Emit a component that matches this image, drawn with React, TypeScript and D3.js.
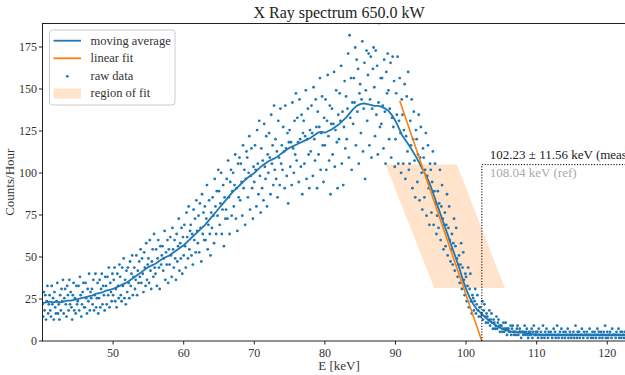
import React from 'react';
import * as d3 from 'd3';

const W = 625;
const H = 375;

// Raw spectrum: recorded counts per 0.1 keV channel starting at 40.0 keV
const ENERGY_START = 40.0;
const ENERGY_STEP = 0.1;
const COUNTS_TO_RATE = 1.82; // counts -> counts/hour
const rawCounts: number[] = [
  12, 8, 16, 10, 15, 7, 13, 18, 9, 12,
  15, 10, 8, 18, 12, 14, 7, 16, 11, 9,
  13, 19, 9, 12, 7, 15, 10, 17, 13, 20,
  9, 14, 17, 12, 8, 18, 15, 10, 20, 12,
  16, 11, 7, 15, 19, 10, 14, 9, 18, 12,
  13, 18, 10, 21, 15, 8, 12, 16, 19, 11,
  11, 19, 14, 9, 17, 13, 22, 10, 16, 14,
  17, 12, 20, 10, 15, 22, 11, 14, 19, 9,
  14, 20, 11, 17, 22, 12, 18, 15, 10, 21,
  18, 12, 21, 15, 24, 11, 19, 16, 13, 22,
  15, 20, 24, 13, 17, 11, 22, 18, 14, 25,
  21, 15, 13, 24, 18, 27, 14, 20, 12, 23,
  16, 24, 19, 14, 26, 18, 22, 28, 15, 21,
  24, 17, 20, 28, 15, 23, 19, 26, 21, 30,
  19, 27, 22, 16, 29, 24, 18, 32, 20, 25,
  27, 19, 33, 23, 17, 26, 30, 21, 35, 24,
  22, 30, 18, 27, 33, 24, 17, 31, 25, 28,
  31, 23, 27, 36, 20, 29, 25, 33, 19, 30,
  25, 34, 28, 21, 37, 30, 24, 33, 27, 20,
  35, 26, 31, 40, 23, 32, 27, 37, 22, 34,
  28, 38, 31, 24, 42, 34, 27, 44, 30, 36,
  38, 28, 35, 25, 43, 33, 40, 29, 46, 36,
  32, 41, 29, 45, 37, 26, 48, 35, 42, 33,
  44, 33, 40, 51, 30, 38, 46, 35, 28, 42,
  37, 47, 41, 32, 53, 44, 35, 49, 41, 56,
  49, 38, 45, 55, 35, 43, 51, 31, 47, 40,
  43, 53, 40, 59, 47, 35, 52, 56, 41, 49,
  55, 44, 51, 61, 40, 50, 36, 58, 47, 60,
  46, 58, 52, 41, 64, 50, 56, 38, 53, 62,
  60, 47, 55, 67, 43, 54, 63, 50, 40, 57,
  52, 64, 56, 44, 69, 58, 48, 72, 54, 42,
  63, 50, 59, 46, 71, 57, 53, 67, 44, 61,
  55, 68, 60, 48, 74, 58, 64, 51, 77, 56,
  66, 53, 62, 47, 72, 60, 51, 76, 58, 64,
  56, 70, 62, 50, 77, 63, 54, 68, 45, 65,
  69, 57, 65, 51, 78, 63, 55, 72, 61, 81,
  59, 73, 65, 52, 79, 66, 57, 74, 48, 68,
  72, 58, 67, 82, 53, 66, 76, 61, 50, 69,
  62, 77, 68, 54, 83, 66, 59, 79, 70, 50,
  75, 61, 70, 86, 56, 68, 80, 64, 52, 73,
  64, 79, 56, 72, 87, 67, 59, 77, 48, 71,
  76, 61, 71, 88, 57, 69, 82, 65, 50, 74,
  66, 81, 72, 90, 58, 75, 51, 70, 85, 63,
  80, 66, 76, 94, 60, 100, 73, 86, 56, 78,
  71, 86, 78, 96, 64, 92, 75, 89, 58, 81,
  84, 68, 79, 98, 62, 76, 91, 53, 82, 95,
  72, 87, 94, 64, 79, 93, 60, 76, 89, 96,
  83, 67, 95, 74, 90, 61, 78, 104, 70, 86,
  71, 86, 77, 63, 92, 75, 58, 88, 81, 94,
  82, 66, 76, 91, 60, 73, 93, 70, 85, 57,
  66, 81, 74, 93, 58, 72, 86, 68, 55, 79,
  74, 58, 69, 84, 53, 67, 80, 62, 88, 56,
  58, 72, 64, 79, 50, 66, 75, 59, 47, 69,
  66, 52, 61, 74, 46, 60, 70, 55, 43, 63,
  60, 47, 56, 68, 41, 54, 64, 50, 38, 58,
  56, 42, 52, 62, 38, 49, 58, 45, 35, 41,
  49, 37, 45, 56, 33, 44, 51, 40, 30, 38,
  42, 31, 38, 48, 28, 37, 44, 33, 26, 30,
  35, 25, 32, 40, 23, 31, 37, 27, 21, 25,
  28, 19, 25, 32, 17, 24, 29, 20, 15, 22,
  21, 13, 18, 24, 11, 17, 22, 13, 9, 15,
  14, 10, 13, 17, 9, 12, 15, 10, 8, 11,
  11, 8, 9, 13, 7, 10, 12, 8, 6, 9,
  8, 6, 7, 10, 5, 7, 9, 6, 4, 7,
  6, 4, 5, 8, 4, 6, 7, 5, 3, 5,
  5, 3, 4, 6, 3, 4, 6, 4, 2, 4,
  4, 3, 3, 5, 2, 4, 5, 3, 2, 3,
  3, 2, 4, 5, 2, 3, 4, 3, 1, 3,
  3, 2, 3, 5, 2, 3, 4, 2, 1, 3,
  2, 3, 2, 4, 1, 3, 5, 2, 2, 3,
  2, 3, 1, 4, 2, 2, 3, 1, 2, 5,
  2, 1, 3, 2, 4, 2, 1, 3, 2, 2,
  3, 2, 1, 2, 4, 2, 3, 1, 2, 5,
  2, 1, 2, 3, 2, 4, 1, 2, 3, 2,
  1, 3, 2, 2, 4, 1, 2, 3, 2, 1,
  2, 2, 3, 1, 2, 5, 2, 1, 3, 2,
  3, 1, 2, 2, 4, 2, 1, 3, 2, 2,
  2, 3, 1, 2, 2, 4, 2, 1, 2, 3,
  1, 2, 3, 2, 1, 2, 4, 2, 3, 1,
  2, 3, 2, 1, 2, 3, 2, 5, 1, 2,
  3, 1, 2, 2, 3, 2, 1, 4, 2, 2,
  2, 2, 1, 3, 2, 2, 4, 1, 2, 3,
  1, 3, 2, 2, 1, 3, 2, 2, 4, 2,
  2, 1, 3, 2, 2, 1, 3, 2, 2, 4,
];

// Moving average (counts/hour) sampled every 0.5 keV from 40.0 keV
const MA_START = 40.0;
const MA_STEP = 0.5;
const movingAverage: number[] = [
  22.5, 23, 23.5, 23, 23.5, 23, 23.5, 24, 24, 24.5,
  25, 25.5, 26, 26.5, 27, 28, 28.5, 29, 30, 30.5,
  31, 32, 33, 34, 35, 36.5, 38, 39.5, 41, 42.5,
  44, 45, 46, 47.5, 49, 50, 51, 52.5, 54, 55.5,
  57, 59, 61, 63, 65, 67, 69, 71.5, 74, 76.5,
  79, 81.5, 84, 86.5, 89, 91, 93, 95, 97, 98.5,
  100, 102, 104, 105.5, 107, 108, 109, 110.5, 112, 113.5,
  115, 116, 117, 118, 119, 120, 121, 122.5, 124, 124.5,
  124, 125, 126, 127.5, 129, 131, 133, 135.5, 138, 140,
  141, 141.5, 141, 140.5, 140, 140, 139.5, 138.5, 137, 134.5,
  131, 126.5, 122, 119, 116, 112.5, 109, 105, 101, 97,
  92, 86, 80, 74, 68, 62, 56, 50, 44, 37,
  31, 26, 22, 19, 17, 15, 13, 11.5, 10, 8.5,
  7.5, 6.5, 6, 5.5, 5.5, 5, 5, 4.5, 4.5, 4,
  4, 3.8, 3.7, 3.8, 3.6, 3.7, 3.6, 3.7, 3.6, 3.5,
  3.6, 3.7, 3.6, 3.5, 3.6, 3.7, 3.6, 3.5, 3.6, 3.6,
  3.5, 3.6, 3.7, 3.6, 3.5, 3.6, 3.6, 3.5, 3.6,
];

// Linear fit of the falling edge
const fitLineE = [90.6, 102.23];
const fitLineRate = [143, 0];

// Region used for the fit (top edge, bottom edge)
const regionRate = [105, 31.5];
const regionLeftE = [88.6, 95.5];
const regionRightE = [98.7, 105.5];

// Endpoint annotation
const measuredE = 102.23;
const measuredErr = 11.56;
const refE = 108.04;
const annotationRate = 105;

const xTicks = [50, 60, 70, 80, 90, 100, 110, 120];
const yTicks = [0, 25, 50, 75, 100, 125, 150, 175];
const xDomain = [40, 124];
const yDomain = [0, 189];

const BLUE = '#1f77b4';
const ORANGE = '#ff7f0e';
const FONT = "'Liberation Serif', 'Times New Roman', serif";

const PLOT = { left: 42.5, right: 635.5, top: 23.5, bottom: 341 };

export default function App() {
  const x = d3.scaleLinear().domain(xDomain).range([PLOT.left, PLOT.right]);
  const y = d3.scaleLinear().domain(yDomain).range([PLOT.bottom, PLOT.top]);

  const raw = rawCounts.map((c, i) => ({ e: ENERGY_START + i * ENERGY_STEP, r: c * COUNTS_TO_RATE }));
  const ma = movingAverage.map((v, i) => ({ e: MA_START + i * MA_STEP, r: v }));

  const line = d3.line<{ e: number; r: number }>().x(d => x(d.e)).y(d => y(d.r));
  const fitPts = fitLineE.map((e, i) => ({ e, r: fitLineRate[i] }));

  const regionPts: [number, number][] = [
    [x(regionLeftE[0]), y(regionRate[0])],
    [x(regionRightE[0]), y(regionRate[0])],
    [x(regionRightE[1]), y(regionRate[1])],
    [x(regionLeftE[1]), y(regionRate[1])],
  ];

  const tickLen = 3.5;

  return (
    <svg width={W} height={H} style={{ position: 'absolute', left: 0, top: 0, background: '#fff', fontFamily: FONT }}>
      <defs>
        <clipPath id="plotclip">
          <rect x={PLOT.left} y={PLOT.top} width={PLOT.right - PLOT.left} height={PLOT.bottom - PLOT.top} />
        </clipPath>
      </defs>
      <rect x={0} y={0} width={W} height={H} fill="#fff" />

      <g clipPath="url(#plotclip)">
        <polygon points={regionPts.map(p => p.join(',')).join(' ')} fill={ORANGE} fillOpacity={0.22} />
        {raw.map((d, i) => (
          <circle key={i} cx={x(d.e)} cy={y(d.r)} r={1.4} fill={BLUE} />
        ))}
        <path d={line(ma) || ''} fill="none" stroke={BLUE} strokeWidth={1.8} strokeLinejoin="round" />
        <path d={line(fitPts) || ''} fill="none" stroke={ORANGE} strokeWidth={1.6} />
        <line x1={x(measuredE)} x2={x(measuredE)} y1={y(0)} y2={y(annotationRate)} stroke="#000" strokeWidth={1} strokeDasharray="1.2,1.6" />
        <line x1={x(measuredE)} x2={PLOT.right} y1={y(annotationRate)} y2={y(annotationRate)} stroke="#000" strokeWidth={1} strokeDasharray="1.2,1.6" />
      </g>

      <text x={x(measuredE) + 8} y={y(annotationRate) - 6} fontSize={13} fill="#222">
        {`${measuredE.toFixed(2)} ± ${measuredErr.toFixed(2)} keV (meas)`}
      </text>
      <text x={x(measuredE) + 8} y={y(annotationRate) + 12} fontSize={13} fill="#aaa">
        {`${refE.toFixed(2)} keV (ref)`}
      </text>

      {/* frame */}
      <rect x={PLOT.left} y={PLOT.top} width={PLOT.right - PLOT.left} height={PLOT.bottom - PLOT.top} fill="none" stroke="#222" strokeWidth={1} />

      {/* x ticks */}
      {xTicks.map(t => (
        <g key={t}>
          <line x1={x(t)} x2={x(t)} y1={PLOT.bottom} y2={PLOT.bottom + tickLen} stroke="#222" />
          <text x={x(t)} y={PLOT.bottom + tickLen + 12} fontSize={12} textAnchor="middle" fill="#333">{t}</text>
        </g>
      ))}
      {/* y ticks */}
      {yTicks.map(t => (
        <g key={t}>
          <line x1={PLOT.left - tickLen} x2={PLOT.left} y1={y(t)} y2={y(t)} stroke="#222" />
          <text x={PLOT.left - tickLen - 2} y={y(t)} dy="0.35em" fontSize={12} textAnchor="end" fill="#333">{t}</text>
        </g>
      ))}

      <text x={(PLOT.left + PLOT.right) / 2} y={18} fontSize={16} textAnchor="middle" fill="#222">X Ray spectrum 650.0 kW</text>
      <text x={(PLOT.left + PLOT.right) / 2} y={370} fontSize={13} textAnchor="middle" fill="#333">E [keV]</text>
      <text transform={`translate(14, ${(PLOT.top + PLOT.bottom) / 2}) rotate(-90)`} fontSize={13} textAnchor="middle" fill="#333">Counts/Hour</text>

      {/* legend */}
      <g>
        <rect x={49.5} y={30} width={125.5} height={75} rx={3} fill="#fff" fillOpacity={0.85} stroke="#ccc" strokeWidth={1} />
        <line x1={53.5} x2={81} y1={40.7} y2={40.7} stroke={BLUE} strokeWidth={1.8} />
        <text x={90.5} y={40.7} dy="0.33em" fontSize={12.5} fill="#333">moving average</text>
        <line x1={53.5} x2={81} y1={58.3} y2={58.3} stroke={ORANGE} strokeWidth={1.8} />
        <text x={90.5} y={58.3} dy="0.33em" fontSize={12.5} fill="#333">linear fit</text>
        <circle cx={67.3} cy={76.3} r={1.4} fill={BLUE} />
        <text x={90.5} y={75.8} dy="0.33em" fontSize={12.5} fill="#333">raw data</text>
        <rect x={53.5} y={88.5} width={27.5} height={10} fill={ORANGE} fillOpacity={0.22} />
        <text x={90.5} y={93.3} dy="0.33em" fontSize={12.5} fill="#333">region of fit</text>
      </g>
    </svg>
  );
}
